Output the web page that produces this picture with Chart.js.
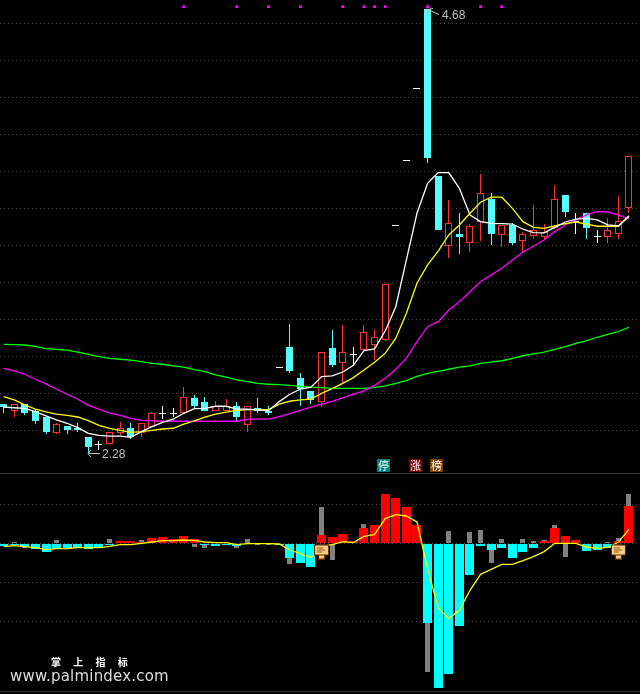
<!DOCTYPE html>
<html>
<head>
<meta charset="utf-8">
<script src="https://cdn.jsdelivr.net/npm/chart.js@4"></script>
<style>
    html, body { margin: 0; padding: 0; background: #000; }
    #stage { position: relative; width: 640px; height: 694px; overflow: hidden; background: #000; }
    canvas { position: absolute; left: 0; display: block; }
    #priceChart { top: 0; }
    #macdChart { top: 474px; }
    .rule { position: absolute; left: 0; width: 640px; height: 1px; background: #333; }
    .tag { position: absolute; top: 459px; width: 13px; height: 13px; color: #fff; font: 11px/13px "Noto Sans CJK SC"; text-align: center; }
    #brand { position: absolute; left: 51px; top: 654px; color: #fff; font: bold 10px/16px "Noto Sans CJK SC"; word-spacing: 10px; white-space: nowrap; }
    #site { position: absolute; left: 10px; top: 666px; color: #ddd; font: 15px/20px "DejaVu Sans"; letter-spacing: .2px; white-space: nowrap; }
</style>
</head>
<body>
<div id="stage">
    <canvas id="priceChart" width="640" height="474"></canvas>
    <canvas id="macdChart" width="640" height="220"></canvas>
    <div class="rule" style="top:473px"></div>
    <div class="rule" style="top:691px"></div>
    <div class="tag" style="left:377px;background:#008080">停</div>
    <div class="tag" style="left:409px;background:#800000">涨</div>
    <div class="tag" style="left:430px;background:#804000">榜</div>
    <div id="brand">掌 上 指 标</div>
    <div id="site">www.palmindex.com</div>
</div>
<script>
// --- Candles ---
const opens = [2.542,2.506,2.542,2.506,2.472,2.387,2.424,2.413,2.364,2.326,2.328,2.387,2.413,2.387,2.420,2.492,2.492,2.492,2.573,2.553,
    2.506,2.506,2.530,2.431,2.521,2.506,2.741,2.850,2.681,2.611,2.552,2.843,2.762,2.813,2.833,2.860,2.888,3.508,3.860,4.249,
    4.680,3.775,3.398,3.461,3.411,3.528,3.649,3.457,3.508,3.422,3.449,3.443,3.492,3.670,3.533,3.573,3.449,3.447,3.460,3.600];
const closes = [2.524,2.542,2.495,2.452,2.393,2.433,2.402,2.402,2.310,2.326,2.389,2.411,2.364,2.438,2.492,2.492,2.492,2.579,2.532,2.506,
    2.530,2.530,2.472,2.530,2.506,2.495,2.741,2.719,2.625,2.566,2.822,2.755,2.822,2.813,2.930,2.903,3.191,3.508,3.860,4.249,
    3.874,3.483,3.519,3.445,3.503,3.681,3.463,3.508,3.414,3.460,3.481,3.470,3.649,3.582,3.533,3.495,3.449,3.481,3.530,3.881];
const highs = [2.542,2.542,2.542,2.515,2.472,2.438,2.424,2.438,2.364,2.342,2.389,2.443,2.440,2.438,2.499,2.532,2.519,2.633,2.589,2.579,
    2.557,2.568,2.552,2.530,2.575,2.530,2.741,2.975,2.708,2.611,2.822,2.942,2.969,2.850,2.969,2.948,3.191,3.508,3.860,4.249,
    4.680,3.775,3.645,3.573,3.514,3.786,3.681,3.508,3.519,3.474,3.618,3.514,3.724,3.670,3.576,3.573,3.485,3.546,3.665,3.881];
const lows = [2.495,2.474,2.483,2.436,2.382,2.382,2.382,2.393,2.280,2.294,2.328,2.376,2.353,2.366,2.420,2.461,2.472,2.492,2.514,2.506,
    2.506,2.506,2.451,2.391,2.495,2.483,2.741,2.712,2.533,2.544,2.525,2.744,2.654,2.752,2.833,2.779,2.883,3.508,3.860,4.249,
    3.847,3.483,3.333,3.355,3.366,3.425,3.402,3.393,3.403,3.366,3.436,3.427,3.487,3.555,3.463,3.436,3.414,3.414,3.436,3.576];

// --- Moving averages ---
const maWhite = [2.525,2.522,2.519,2.501,2.478,2.456,2.438,2.414,2.384,2.373,2.369,2.368,2.362,2.393,2.420,2.443,2.460,2.492,2.517,2.519,
    2.530,2.530,2.515,2.515,2.510,2.506,2.555,2.595,2.622,2.633,2.690,2.694,2.715,2.752,2.831,2.840,2.937,3.068,3.321,3.573,
    3.735,3.793,3.793,3.708,3.564,3.528,3.519,3.517,3.515,3.487,3.468,3.467,3.497,3.526,3.542,3.546,3.537,3.510,3.505,3.560];
const maYellow = [2.582,2.564,2.537,2.514,2.499,2.488,2.481,2.472,2.452,2.427,2.411,2.400,2.389,2.393,2.400,2.407,2.411,2.433,2.451,2.471,
    2.488,2.498,2.508,2.512,2.512,2.512,2.541,2.557,2.564,2.569,2.600,2.625,2.654,2.685,2.726,2.768,2.816,2.898,3.033,3.195,
    3.294,3.369,3.456,3.510,3.573,3.633,3.660,3.660,3.600,3.528,3.497,3.492,3.505,3.517,3.526,3.515,3.503,3.503,3.503,3.555];
const maMagenta = [2.735,2.721,2.703,2.676,2.651,2.622,2.595,2.568,2.535,2.514,2.494,2.481,2.465,2.454,2.451,2.449,2.449,2.449,2.449,2.449,
    2.449,2.449,2.449,2.460,2.460,2.460,2.474,2.490,2.508,2.525,2.541,2.557,2.575,2.595,2.613,2.643,2.681,2.730,2.789,2.879,
    2.960,2.987,3.050,3.095,3.149,3.203,3.240,3.276,3.321,3.364,3.396,3.429,3.474,3.510,3.537,3.564,3.582,3.580,3.564,3.542];
const maGreen = [2.865,2.863,2.861,2.854,2.841,2.838,2.833,2.822,2.811,2.798,2.789,2.784,2.779,2.771,2.762,2.757,2.748,2.741,2.728,2.717,
    2.699,2.687,2.672,2.663,2.654,2.649,2.647,2.643,2.638,2.633,2.631,2.627,2.627,2.627,2.627,2.631,2.640,2.654,2.668,2.692,
    2.708,2.719,2.730,2.741,2.748,2.762,2.768,2.776,2.789,2.803,2.813,2.823,2.838,2.852,2.870,2.885,2.903,2.919,2.933,2.957];

// --- Lower panel ---
const histBars = [-.027,-.013,-.037,-.057,-.09,-.053,-.053,-.047,-.06,-.047,-.01,.02,.02,.013,.05,.06,.04,.07,.04,-.01,
    -.03,-.02,-.03,null,null,null,-.02,-.15,-.2,-.24,.08,.06,.09,.02,.15,.18,.49,.45,.36,.18,
    -.797,-1.45,-1.31,-.83,-.32,-.03,-.067,-.047,-.147,-.087,-.047,.023,.153,.073,.033,-.077,-.067,-.047,.023,.373];
const grayBars = [null,.01,-.05,null,null,.03,null,null,null,null,.04,null,null,.03,null,null,null,null,-.037,-.05,
    null,null,-.05,.04,-.02,-.02,null,-.21,null,null,.363,-.17,null,null,.19,null,null,null,null,null,
    -1.29,null,.123,null,.113,.133,-.197,.043,null,.043,.023,.033,.183,-.137,null,null,null,.013,.053,.493];
const histLine = [-.033,-.023,-.033,-.043,-.063,-.053,-.053,-.043,-.043,-.043,-.03,-.013,-.013,0,.013,.027,.027,.033,.03,.013,
    .007,.007,-.013,-.003,-.003,-.003,-.007,-.067,-.103,-.143,-.027,-.013,.017,.007,.07,.09,.247,.287,.273,.213,
    -.253,-.647,-.753,-.67,-.47,-.31,-.26,-.21,-.21,-.173,-.133,-.083,0,0,0,-.037,-.05,-.04,.01,.14];

// --- Ticks and markers ---
const priceGrid = [4.6,4.4,4.2,4.0,3.8,3.6,3.4,3.2,3.0,2.8,2.6,2.4];
const histGrid = [.39,0,-.39,-.78];
const signalIdx = [17,22,25,28,32,34,35,36,40,45,47];
const signalLevel = 4.69;
const flagIdx = [30,58];
const flagLevel = -.082;
const highIdx = 40, highLabel = '4.68';
const lowIdx = 8, lowLabel = '2.28';

const RED = '#ff3232', CYAN = '#54fcfc', WHITE = '#ffffff';
const xRange = { min: -0.34, max: 60.04 };

const pts = arr => arr.map((v, i) => ({ x: i, y: v }));

function candleColor(i) {
    if (closes[i] > opens[i]) return RED;
    if (closes[i] < opens[i]) return CYAN;
    return WHITE;
}

// bars land on whole pixels, like the terminal draws them
const snapBars = {
    id: 'snapBars',
    afterDatasetsUpdate(chart) {
        chart.getSortedVisibleDatasetMetas().forEach(meta => {
            if (meta.type !== 'bar') return;
            meta.data.forEach(el => {
                el.x = Math.floor(el.x) + 0.5;
                el.y = Math.round(el.y);
                el.base = Math.round(el.base);
                if (el.y === el.base) el.base = el.y + 1;
            });
        });
    }
};

// high / low notes with their little arrows
const priceNotes = {
    id: 'priceNotes',
    afterDatasetsDraw(chart) {
        const { ctx, scales: { x, y } } = chart;
        ctx.save();
        ctx.strokeStyle = '#c0c0c0';
        ctx.fillStyle = '#c0c0c0';
        ctx.lineWidth = 1;
        ctx.font = '12px "Liberation Sans"';
        ctx.textBaseline = 'alphabetic';

        const hx = Math.round(x.getPixelForValue(highIdx));
        const hy = Math.round(y.getPixelForValue(highs[highIdx]));
        ctx.beginPath();
        ctx.moveTo(hx, hy + 0.5); ctx.lineTo(hx + 11, hy + 5.5);
        ctx.moveTo(hx, hy + 0.5); ctx.lineTo(hx + 1, hy + 5);
        ctx.moveTo(hx, hy + 0.5); ctx.lineTo(hx + 5, hy - 0.5);
        ctx.stroke();
        ctx.fillText(highLabel, hx + 14, hy + 10);

        const lx = Math.round(x.getPixelForValue(lowIdx));
        const ly = Math.round(y.getPixelForValue(lows[lowIdx]));
        ctx.beginPath();
        ctx.moveTo(lx, ly + 0.5); ctx.lineTo(lx + 12, ly + 0.5);
        ctx.moveTo(lx, ly + 0.5); ctx.lineTo(lx + 3, ly - 3);
        ctx.moveTo(lx, ly + 0.5); ctx.lineTo(lx + 3, ly + 4);
        ctx.stroke();
        ctx.fillText(lowLabel, lx + 14, ly + 5);
        ctx.restore();
    }
};

function makeFlagIcon() {
    const c = document.createElement('canvas');
    c.width = 15; c.height = 16;
    const g = c.getContext('2d');
    g.fillStyle = '#5a2e00';
    g.fillRect(4, 0, 7, 2);
    g.fillRect(0, 1, 15, 11);
    g.fillRect(4, 12, 7, 4);
    g.fillStyle = '#ffc97f';
    g.fillRect(1, 2, 13, 9);
    g.fillRect(5, 12, 5, 3);
    g.fillStyle = '#8a5a20';
    g.fillRect(3, 4, 6, 1);
    g.fillRect(3, 6, 8, 1);
    g.fillRect(3, 8, 5, 1);
    return c;
}

function lineSet(values, color, order) {
    return { type: 'line', data: pts(values), borderColor: color, borderWidth: 1.3, pointRadius: 0, tension: 0, order };
}

function panelOptions(yMin, yMax, gridVals) {
    return {
        responsive: false,
        animation: false,
        events: [],
        layout: { padding: 0, autoPadding: false },
        elements: { bar: { inflateAmount: 0 } },
        plugins: { legend: { display: false }, tooltip: { enabled: false } },
        scales: {
            x: { type: 'linear', offset: false, min: xRange.min, max: xRange.max, display: false },
            y: {
                min: yMin, max: yMax,
                afterBuildTicks: axis => { axis.ticks = gridVals.map(v => ({ value: v })); },
                ticks: { display: false },
                border: { display: false, dash: [1, 3] },
                grid: { color: '#4a4a4a', drawTicks: false, lineWidth: 1 }
            }
        }
    };
}

document.addEventListener('DOMContentLoaded', () => {
    const idx = opens.map((_, i) => i);

    new Chart(document.getElementById('priceChart'), {
        data: {
            datasets: [
                {
                    type: 'bar', grouped: false, barThickness: 1, order: 6,
                    data: idx.map(i => ({ x: i, y: [lows[i], highs[i]] })),
                    backgroundColor: idx.map(candleColor)
                },
                {
                    type: 'bar', grouped: false, barThickness: 7, order: 5,
                    data: idx.map(i => ({ x: i, y: [opens[i], closes[i]] })),
                    backgroundColor: idx.map(i => candleColor(i) === RED ? '#000000' : candleColor(i)),
                    borderColor: idx.map(candleColor),
                    borderWidth: 1, borderSkipped: false
                },
                lineSet(maGreen, '#00ff00', 4),
                lineSet(maMagenta, '#ff00ff', 3),
                lineSet(maYellow, '#ffff00', 2),
                lineSet(maWhite, '#ffffff', 1),
                {
                    type: 'line', showLine: false, order: 0,
                    data: signalIdx.map(i => ({ x: i, y: signalLevel })),
                    pointStyle: 'rect', pointRadius: 2, pointBackgroundColor: '#ff00ff', pointBorderWidth: 0
                }
            ]
        },
        options: panelOptions(2.1638, 4.726, priceGrid),
        plugins: [snapBars, priceNotes]
    });

    new Chart(document.getElementById('macdChart'), {
        data: {
            datasets: [
                {
                    type: 'bar', grouped: false, barThickness: 5, order: 4,
                    data: pts(grayBars), backgroundColor: '#808080'
                },
                {
                    type: 'bar', grouped: false, barThickness: 9, order: 3,
                    data: pts(histBars),
                    backgroundColor: histBars.map(v => v > 0 ? '#ff0000' : '#00ffff')
                },
                lineSet(histLine, '#ffff00', 2),
                {
                    type: 'line', showLine: false, order: 1,
                    data: flagIdx.map(i => ({ x: i, y: flagLevel })),
                    pointStyle: makeFlagIcon(), pointRadius: 8
                }
            ]
        },
        options: panelOptions(-1.507, .693, histGrid),
        plugins: [snapBars]
    });
});
</script>
</body>
</html>
